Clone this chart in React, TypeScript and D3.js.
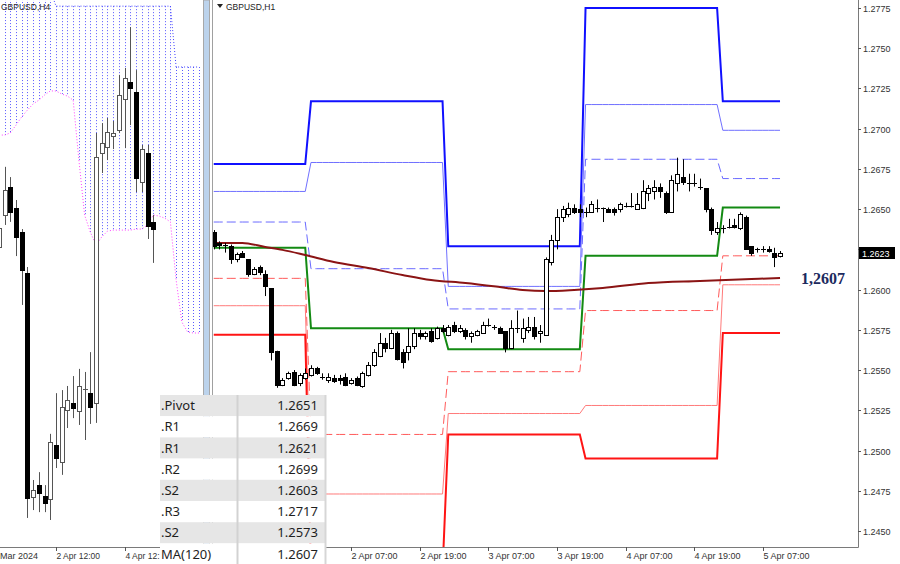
import React from 'react';
import * as d3 from 'd3';

const W = 900;
const H = 564;

// ---------- H1 panel (right) : hourly candles from 1 Apr 07:00 (hour index 7) ----------
const h1FirstHour = 7;
const h1Candles: [number, number, number, number][] = [
  [1.2636, 1.2637, 1.2625, 1.2627], [1.2629, 1.2630, 1.2625, 1.2628], [1.2628, 1.2629, 1.2623, 1.2628],
  [1.2627, 1.2628, 1.2616, 1.2619], [1.2619, 1.2623, 1.2617, 1.2622], [1.2623, 1.2624, 1.2620, 1.2620],
  [1.2619, 1.2619, 1.2608, 1.2610], [1.2610, 1.2614, 1.2609, 1.2613], [1.2614, 1.2615, 1.2609, 1.2611],
  [1.2610, 1.2612, 1.2596, 1.2602], [1.2601, 1.2601, 1.2556, 1.2561], [1.2562, 1.2562, 1.2539, 1.2541],
  [1.2541, 1.2545, 1.2540, 1.2544], [1.2545, 1.2549, 1.2544, 1.2548], [1.2549, 1.2550, 1.2540, 1.2541],
  [1.2542, 1.2548, 1.2540, 1.2547], [1.2545, 1.2551, 1.2544, 1.2548], [1.2547, 1.2553, 1.2546, 1.2551],
  [1.2551, 1.2552, 1.2547, 1.2548], [1.2546, 1.2548, 1.2544, 1.2546], [1.2544, 1.2548, 1.2542, 1.2546],
  [1.2545, 1.2547, 1.2542, 1.2543], [1.2545, 1.2547, 1.2541, 1.2544], [1.2546, 1.2548, 1.2540, 1.2541],
  [1.2542, 1.2545, 1.2541, 1.2544], [1.2545, 1.2546, 1.2540, 1.2541], [1.2540, 1.2549, 1.2539, 1.2548],
  [1.2547, 1.2555, 1.2546, 1.2553], [1.2553, 1.2563, 1.2552, 1.2561], [1.2559, 1.2573, 1.2558, 1.2567],
  [1.2567, 1.2570, 1.2561, 1.2564], [1.2564, 1.2575, 1.2563, 1.2573], [1.2573, 1.2574, 1.2556, 1.2557],
  [1.2561, 1.2563, 1.2551, 1.2555], [1.2561, 1.2576, 1.2556, 1.2565], [1.2565, 1.2576, 1.2563, 1.2573],
  [1.2573, 1.2575, 1.2569, 1.2571], [1.2571, 1.2574, 1.2569, 1.2573], [1.2574, 1.2576, 1.2567, 1.2568],
  [1.2570, 1.2577, 1.2569, 1.2576], [1.2576, 1.2578, 1.2573, 1.2574], [1.2572, 1.2578, 1.2571, 1.2577],
  [1.2578, 1.2580, 1.2573, 1.2574], [1.2574, 1.2578, 1.2573, 1.2576], [1.2575, 1.2576, 1.2569, 1.2571],
  [1.2571, 1.2574, 1.2567, 1.2573], [1.2572, 1.2575, 1.2571, 1.2574], [1.2573, 1.2580, 1.2573, 1.2578],
  [1.2578, 1.2582, 1.2577, 1.2578], [1.2576, 1.2578, 1.2575, 1.2577], [1.2576, 1.2577, 1.2573, 1.2573],
  [1.2574, 1.2574, 1.2561, 1.2564], [1.2564, 1.2581, 1.2563, 1.2576], [1.2576, 1.2587, 1.2573, 1.2576],
  [1.2570, 1.2582, 1.2567, 1.2576], [1.2575, 1.2583, 1.2573, 1.2577], [1.2577, 1.2583, 1.2569, 1.2571],
  [1.2573, 1.2578, 1.2567, 1.2574], [1.2572, 1.2620, 1.2572, 1.2619], [1.2617, 1.2634, 1.2615, 1.2631],
  [1.2631, 1.2650, 1.2625, 1.2645], [1.2645, 1.2652, 1.2642, 1.2650], [1.2647, 1.2654, 1.2645, 1.2651],
  [1.2651, 1.2653, 1.2647, 1.2648], [1.2650, 1.2653, 1.2645, 1.2648], [1.2648, 1.2651, 1.2645, 1.2648],
  [1.2648, 1.2655, 1.2648, 1.2653], [1.2651, 1.2656, 1.2648, 1.2651], [1.2651, 1.2651, 1.2642, 1.2651],
  [1.2650, 1.2651, 1.2648, 1.2648], [1.2650, 1.2651, 1.2646, 1.2648], [1.2650, 1.2654, 1.2648, 1.2653],
  [1.2652, 1.2654, 1.2651, 1.2652], [1.2652, 1.2660, 1.2651, 1.2652], [1.2650, 1.2660, 1.2650, 1.2653],
  [1.2651, 1.2668, 1.2650, 1.2661], [1.2660, 1.2665, 1.2655, 1.2663], [1.2661, 1.2668, 1.2656, 1.2664],
  [1.2664, 1.2666, 1.2657, 1.2661], [1.2660, 1.2661, 1.2647, 1.2648], [1.2648, 1.2671, 1.2648, 1.2668],
  [1.2666, 1.2682, 1.2661, 1.2672], [1.2670, 1.2681, 1.2665, 1.2667], [1.2666, 1.2672, 1.2661, 1.2666],
  [1.2666, 1.2672, 1.2664, 1.2666], [1.2664, 1.2669, 1.2662, 1.2664], [1.2663, 1.2663, 1.2648, 1.2650],
  [1.2650, 1.2651, 1.2634, 1.2637], [1.2636, 1.2642, 1.2634, 1.2638], [1.2638, 1.2640, 1.2635, 1.2638],
  [1.2639, 1.2644, 1.2638, 1.2639], [1.2640, 1.2644, 1.2638, 1.2639], [1.2638, 1.2648, 1.2637, 1.2647],
  [1.2645, 1.2646, 1.2625, 1.2625], [1.2627, 1.2627, 1.2621, 1.2623], [1.2625, 1.2626, 1.2623, 1.2625],
  [1.2625, 1.2627, 1.2623, 1.2625], [1.2625, 1.2627, 1.2623, 1.2624], [1.2623, 1.2626, 1.2614, 1.2620],
  [1.2621, 1.2624, 1.2620, 1.2623],
];

// Daily pivot levels: 1 Apr .. 5 Apr
const levelR3 = [1.2678, 1.2717, 1.2627, 1.2775, 1.2717];
const levelR2 = [1.2661, 1.2679, 1.2602, 1.2715, 1.2699];
const levelR1 = [1.2642, 1.2613, 1.2588, 1.2681, 1.2669];
const levelPivot = [1.2626, 1.2576, 1.2563, 1.2621, 1.2651];
const levelS1 = [1.2607, 1.2510, 1.2549, 1.2587, 1.2621];
const levelS2 = [1.2590, 1.2473, 1.2523, 1.2528, 1.2603];
const levelS3 = [1.2572, 1.2425, 1.2510, 1.2495, 1.2573];

// MA(120) sampled at hour indices
const maHours = [7, 12, 16, 19, 23, 28, 34, 40, 45, 51, 57, 61, 65, 70, 75, 83, 92, 101, 106];
const maValues = [1.2629, 1.2629, 1.26265, 1.26247, 1.26215, 1.26172, 1.26134, 1.26091, 1.2606, 1.26041,
  1.26016, 1.25998, 1.25991, 1.25998, 1.2601, 1.26041, 1.26054, 1.26066, 1.26072];

const priceTicks = [1.2450, 1.2475, 1.2500, 1.2525, 1.2550, 1.2575, 1.2600, 1.2625, 1.2650, 1.2675, 1.2700, 1.2725, 1.2750, 1.2775];
const timeTickHours = [31, 43, 55, 67, 79, 91, 103];
const timeTickLabels = ['2 Apr 07:00', '2 Apr 19:00', '3 Apr 07:00', '3 Apr 19:00', '4 Apr 07:00', '4 Apr 19:00', '5 Apr 07:00'];

const currentPrice = 1.2623;
const maLabel = '1,2607';

// ---------- H4 panel (left) : bars indexed from -10 (0 = 2 Apr 12:00) ----------
const h4FirstIndex = -10;
const h4Candles: [number, number, number, number][] = [
  [1.26178, 1.26251, 1.26163, 1.26233], [1.26271, 1.26412, 1.26242, 1.26344], [1.26353, 1.26382, 1.26251, 1.2628],
  [1.26292, 1.26315, 1.26151, 1.26207], [1.26221, 1.2623, 1.26008, 1.2611], [1.26101, 1.26119, 1.25385, 1.25443],
  [1.25446, 1.25496, 1.25408, 1.25467], [1.25481, 1.25519, 1.25402, 1.25458], [1.25449, 1.25481, 1.25402, 1.25429],
  [1.2544, 1.25631, 1.25379, 1.25607], [1.25598, 1.2575, 1.25531, 1.2556], [1.25549, 1.25759, 1.25511, 1.2571],
  [1.25701, 1.25771, 1.25648, 1.2573], [1.25721, 1.258, 1.25677, 1.25707], [1.25698, 1.25821, 1.25657, 1.25771],
  [1.25762, 1.25812, 1.25613, 1.2576], [1.2575, 1.2587, 1.2566, 1.2571], [1.25721, 1.26511, 1.25663, 1.26441],
  [1.26452, 1.2654, 1.26394, 1.26482], [1.2647, 1.26555, 1.26432, 1.26514], [1.26502, 1.26546, 1.26464, 1.26511],
  [1.2652, 1.26681, 1.26511, 1.26622], [1.2661, 1.26701, 1.26467, 1.26672], [1.2666, 1.26821, 1.26534, 1.26643],
  [1.26631, 1.26695, 1.26338, 1.26379], [1.26368, 1.26476, 1.26338, 1.26464], [1.26452, 1.26476, 1.26201, 1.26239],
  [1.26251, 1.26271, 1.26131, 1.2623],
];
// Ichimoku cloud edges, bar index -10 .. 25
const cloudTop = [
  1.26929, 1.26929, 1.26929, 1.26929, 1.26929, 1.26929, 1.26929, 1.26929, 1.26929, 1.26929,
  1.26882, 1.26882, 1.26882, 1.26882, 1.26882, 1.26882, 1.26882, 1.26882, 1.26882, 1.26882,
  1.26882, 1.26882, 1.26882, 1.26882, 1.26882, 1.26882, 1.26882, 1.26882, 1.26882, 1.26882,
  1.26882, 1.26704, 1.26704, 1.26704, 1.26704, 1.26704,
];
const cloudBottom = [
  1.26505, 1.26505, 1.26511, 1.26534, 1.26558, 1.26578, 1.26596, 1.26607, 1.26622, 1.26634,
  1.26634, 1.26625, 1.26619, 1.26607, 1.26432, 1.26271, 1.26221, 1.26183,
  1.26207, 1.26224, 1.26227, 1.26227, 1.26227, 1.26227, 1.2623, 1.2623,
  1.26242, 1.26271, 1.26268, 1.26262, 1.26251, 1.26081, 1.25958, 1.25929, 1.25926, 1.25926,
];
const h4TickIndex = [0, 12];
const h4TickLabels = ['2 Apr 12:00', '4 Apr 12:'];
const h4FirstLabel = 'Mar 2024';

// ---------- table ----------
const tableLabels = ['.Pivot', '.R1', '.R1', '.R2', '.S2', '.R3', '.S2', 'MA(120)'];
const tableValues = ['1.2651', '1.2669', '1.2621', '1.2699', '1.2603', '1.2717', '1.2573', '1.2607'];

const AXIS_FONT = '"Liberation Sans", Arial, sans-serif';
const TABLE_FONT = '"Noto Sans", "Open Sans", sans-serif';

type C4 = [number, number, number, number];

function Candles(props: {
  data: C4[]; first: number; x: (v: number) => number; y: (v: number) => number;
  half: number; wick: string; outline: string;
}) {
  const { data, first, x, y, half, wick, outline } = props;
  return (
    <g>
      {data.map((d, i) => {
        const [o, h, l, c] = d;
        const cx = Math.round(x(first + i)) + 0.5;
        const yo = y(o), yc = y(c), yh = y(h), yl = y(l);
        const top = Math.round(Math.min(yo, yc));
        const bot = Math.round(Math.max(yo, yc));
        const bull = c > o;
        const doji = bot - top < 1.5;
        return (
          <g key={i}>
            <line x1={cx} x2={cx} y1={yh} y2={yl} stroke={wick} strokeWidth={1} />
            {doji ? (
              <line x1={cx - half - 0.5} x2={cx + half + 0.5} y1={top + 0.5} y2={top + 0.5} stroke={outline} strokeWidth={1} />
            ) : bull ? (
              <rect x={cx - half} y={top + 0.5} width={half * 2} height={bot - top} fill="#ffffff" stroke={outline} strokeWidth={1} />
            ) : (
              <rect x={cx - half - 0.5} y={top} width={half * 2 + 1} height={bot - top + 1} fill="#000000" />
            )}
          </g>
        );
      })}
    </g>
  );
}

export default function App() {
  const xR = d3.scaleLinear().domain([7, 106]).range([213.74, 780.02]);
  const yR = d3.scaleLinear().domain([1.2450, 1.2775]).range([531, 8]);
  const xL = d3.scaleLinear().domain([0, 12]).range([56, 124.64]);
  const yL = d3.scaleLinear().domain([1.2530, 1.2690]).range([547, 0]);

  const hours = d3.range(h1FirstHour, h1FirstHour + h1Candles.length);
  const levelPath = (lv: number[]) =>
    d3.line<number>().x((h) => xR(h)).y((h) => yR(lv[Math.floor(h / 24)]))(hours) || '';

  const maPath = d3.line<number>().x((h) => xR(h)).y((_, i) => yR(maValues[i])).curve(d3.curveMonotoneX)(maHours) || '';

  const cloudIdx = d3.range(h4FirstIndex, h4FirstIndex + cloudTop.length);
  const topPath = d3.line<number>().x((k) => xL(k)).y((_, i) => yL(cloudTop[i]))(cloudIdx) || '';
  const botPath = d3.line<number>().x((k) => xL(k)).y((_, i) => yL(cloudBottom[i]))(cloudIdx) || '';

  const levels: { d: number[]; color: string; w: number; dash?: string }[] = [
    { d: levelR3, color: '#1010ff', w: 2 },
    { d: levelR2, color: '#7070ff', w: 1 },
    { d: levelR1, color: '#6a6aff', w: 1, dash: '9 4' },
    { d: levelPivot, color: '#138a13', w: 2 },
    { d: levelS1, color: '#ff5a5a', w: 1, dash: '9 4' },
    { d: levelS2, color: '#ff7a7a', w: 1 },
    { d: levelS3, color: '#ff1414', w: 2 },
  ];

  const rowH = 21.2;
  const tableTop = 395;
  const boxY = Math.round(yR(currentPrice));

  return (
    <svg width={W} height={H} style={{ position: 'absolute', left: 0, top: 0, background: '#ffffff' }}
      xmlns="http://www.w3.org/2000/svg">
      <defs>
        <clipPath id="clipL"><rect x={0} y={0} width={203} height={547} /></clipPath>
        <clipPath id="clipR"><rect x={213} y={0} width={645} height={547} /></clipPath>
      </defs>
      <rect x={0} y={0} width={W} height={H} fill="#ffffff" />

      {/* ---------- left H4 panel ---------- */}
      <g clipPath="url(#clipL)">
        {cloudIdx.map((k, i) => {
          const cx = Math.round(xL(k)) + 0.5;
          return (
            <line key={k} x1={cx} x2={cx} y1={yL(cloudTop[i])} y2={yL(cloudBottom[i])}
              stroke="#5a5aff" strokeWidth={1} strokeDasharray="1 2" />
          );
        })}
        <path d={topPath} fill="none" stroke="#4040ff" strokeWidth={1} strokeDasharray="1 2" />
        <path d={botPath} fill="none" stroke="#ff40ff" strokeWidth={1} strokeDasharray="1 2" />
        <Candles data={h4Candles} first={h4FirstIndex} x={xL} y={yL} half={2} wick="#555555" outline="#555555" />
      </g>
      <text x={1} y={10} fontFamily={AXIS_FONT} fontSize={8.5} fill="#222">GBPUSD,H4</text>

      {/* separator */}
      <rect x={203.5} y={0} width={6} height={547} fill="#bcd3ec" stroke="#a8a8a8" strokeWidth={1} />
      <line x1={212.5} x2={212.5} y1={0} y2={547} stroke="#a0a0a0" strokeWidth={1} />

      {/* ---------- right H1 panel ---------- */}
      <g clipPath="url(#clipR)">
        {levels.map((lv, i) => (
          <path key={i} d={levelPath(lv.d)} fill="none" stroke={lv.color} strokeWidth={lv.w}
            strokeDasharray={lv.dash} />
        ))}
        <path d={maPath} fill="none" stroke="#8b1414" strokeWidth={2} />
        <Candles data={h1Candles} first={h1FirstHour} x={xR} y={yR} half={2} wick="#000000" outline="#000000" />
      </g>
      <g>
        <path d="M217,4 L223,4 L220,8 Z" fill="#222" />
        <text x={226} y={10} fontFamily={AXIS_FONT} fontSize={8.5} fill="#222">GBPUSD,H1</text>
      </g>

      <text x={801} y={283.5} fontFamily='"Liberation Serif", "Times New Roman", serif' fontWeight="bold"
        fontSize={16} fill="#1c2a5e">{maLabel}</text>

      {/* ---------- axes ---------- */}
      <line x1={0} x2={858.5} y1={547.5} y2={547.5} stroke="#7a7a7a" strokeWidth={1} />
      <line x1={858.5} x2={858.5} y1={0} y2={547.5} stroke="#7a7a7a" strokeWidth={1} />
      {priceTicks.map((p) => {
        const yy = Math.round(yR(p)) + 0.5;
        const hidden = Math.abs(yy - boxY) < 8;
        return (
          <g key={p}>
            <line x1={858} x2={861} y1={yy} y2={yy} stroke="#555" />
            {!hidden && (
              <text x={863} y={yy + 3} fontFamily={AXIS_FONT} fontSize={9} fill="#333">{p.toFixed(4)}</text>
            )}
          </g>
        );
      })}
      <rect x={859} y={boxY - 6} width={36} height={12} fill="#000" />
      <text x={862} y={boxY + 3.5} fontFamily={AXIS_FONT} fontSize={9} fill="#fff">
        {currentPrice.toFixed(4)}
      </text>

      {timeTickHours.map((h, i) => {
        const xx = Math.round(xR(h)) + 0.5;
        return (
          <g key={h}>
            <line x1={xx} x2={xx} y1={547} y2={551} stroke="#555" />
            <text x={xx} y={559} fontFamily={AXIS_FONT} fontSize={9} fill="#333">{timeTickLabels[i]}</text>
          </g>
        );
      })}
      {h4TickIndex.map((k, i) => {
        const xx = Math.round(xL(k)) + 0.5;
        return (
          <g key={k}>
            <line x1={xx} x2={xx} y1={547} y2={551} stroke="#555" />
            <text x={xx} y={559} fontFamily={AXIS_FONT} fontSize={8.5} fill="#333">{h4TickLabels[i]}</text>
          </g>
        );
      })}
      <text x={0} y={559} fontFamily={AXIS_FONT} fontSize={9} fill="#333">{h4FirstLabel}</text>

      {/* ---------- table ---------- */}
      <g>
        {tableLabels.map((lab, i) => {
          const y0 = tableTop + i * rowH;
          const gray = i % 2 === 0 && i < 7;
          return (
            <g key={i}>
              <rect x={160} y={y0} width={166} height={rowH} fill={gray ? '#e6e6e6' : '#ffffff'} />
              <text x={161} y={y0 + rowH / 2 + 4.5} fontFamily={TABLE_FONT}
                fontSize={13} fill="#1e1e1e">{lab}</text>
              <text x={318} y={y0 + rowH / 2 + 4.5} textAnchor="end" fontFamily={TABLE_FONT}
                fontSize={13} fill="#1e1e1e">{tableValues[i]}</text>
            </g>
          );
        })}
        <line x1={237.5} x2={237.5} y1={tableTop} y2={H} stroke="#d2d2d2" strokeWidth={2} />
        <line x1={325.5} x2={325.5} y1={tableTop} y2={H} stroke="#d6d6d6" strokeWidth={2} />
      </g>
    </svg>
  );
}
